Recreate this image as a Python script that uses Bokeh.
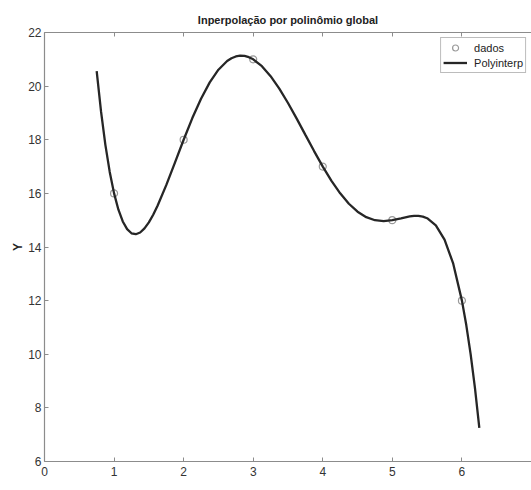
from bokeh.plotting import figure
from bokeh.models import Range1d, LinearAxis, FixedTicker, Legend, LegendItem, Label, CustomJSTickFormatter
from bokeh.embed import file_html
from bokeh.resources import INLINE

# data points
x_dados = [1, 2, 3, 4, 5, 6]
y_dados = [16, 18, 21, 17, 15, 12]

# interpolating curve
curve_x = [0.75, 0.8125, 0.875, 0.9375, 1.0, 1.0625, 1.125, 1.1875, 1.25, 1.3125,
           1.375, 1.4375, 1.5, 1.5625, 1.625, 1.75, 1.875,
           2.0, 2.125, 2.25, 2.375, 2.5, 2.625, 2.6875, 2.75, 2.8125, 2.875, 2.9375,
           3.0, 3.125, 3.25, 3.375, 3.5, 3.625, 3.75, 3.875, 4.0, 4.125, 4.25, 4.375,
           4.5, 4.625, 4.75, 4.875, 5.0, 5.125, 5.25, 5.3125, 5.375, 5.4375, 5.5, 5.625,
           5.75, 5.875, 6.0, 6.0625, 6.125, 6.1875, 6.25]
curve_y = [20.559, 19.057, 17.811, 16.800, 16.0, 15.391, 14.952, 14.665, 14.512, 14.476,
           14.541, 14.693, 14.918, 15.203, 15.537, 16.306, 17.149,
           18.0, 18.808, 19.532, 20.141, 20.613, 20.937, 21.041, 21.107, 21.135, 21.126, 21.080,
           21.0, 20.743, 20.372, 19.907, 19.371, 18.788, 18.182, 17.578, 17.0, 16.468, 16.002, 15.614,
           15.316, 15.112, 14.999, 14.968, 15.0, 15.069, 15.139, 15.159, 15.160, 15.135, 15.074, 14.808,
           14.277, 13.379, 12.0, 11.089, 10.007, 8.735, 7.253]

x_ticks = [0, 1, 2, 3, 4, 5, 6]
y_ticks = [6, 8, 10, 12, 14, 16, 18, 20, 22]

FONT = "Liberation Sans"
AXIS_COL = "#8c8c8c"
TEXT_COL = "#333333"

p = figure(width=531, height=490, output_backend="svg", toolbar_location=None,
           x_range=Range1d(0, 7), y_range=Range1d(6, 22),
           title="Inperpolação por polinômio global",
           min_border_left=44, min_border_right=0, min_border_top=32, min_border_bottom=29)

p.background_fill_color = "white"
p.border_fill_color = "white"
p.outline_line_color = None
p.grid.visible = False

p.title.align = "center"
p.title.text_font = FONT
p.title.text_font_size = "11px"
p.title.text_font_style = "bold"
p.title.text_color = "#222222"
p.title.standoff = 14

def style_axis(ax, ticks):
    ax.ticker = FixedTicker(ticks=ticks)
    ax.axis_line_color = AXIS_COL
    ax.axis_line_width = 1.2
    ax.major_tick_line_color = AXIS_COL
    ax.major_tick_in = 4
    ax.major_tick_out = 0
    ax.minor_tick_line_color = None
    ax.major_label_text_font = FONT
    ax.major_label_text_font_size = "12px"
    ax.major_label_text_color = TEXT_COL
    ax.axis_label_text_font = FONT
    ax.axis_label_text_font_size = "12px"
    ax.axis_label_text_font_style = "bold"
    ax.axis_label_text_color = "#222222"

style_axis(p.xaxis[0], x_ticks)
style_axis(p.yaxis[0], y_ticks)
p.yaxis[0].axis_label = "Y"
p.xaxis[0].major_label_standoff = 5
p.yaxis[0].major_label_standoff = 3
p.yaxis[0].axis_label_standoff = 0

top = LinearAxis()
style_axis(top, x_ticks)
top.formatter = CustomJSTickFormatter(code="return '';")
top.major_label_standoff = 0
p.add_layout(top, "above")

r_pts = p.scatter(x_dados, y_dados, marker="circle", size=7,
                  fill_color=None, line_color="#9a9a9a", line_width=1.2)
r_line = p.line(curve_x, curve_y, line_color="#262626", line_width=2.3)

xlabel = Label(x=(p.x_range.start + p.x_range.end) / 2, y=p.y_range.start,
               x_units="data", y_units="data", y_offset=-23,
               text="x", text_font=FONT, text_font_size="12px", text_font_style="bold",
               text_color="#222222", text_align="center", text_baseline="middle")
p.add_layout(xlabel)

legend = Legend(items=[LegendItem(label="dados", renderers=[r_pts]),
                       LegendItem(label="Polyinterp", renderers=[r_line])],
                location="top_right")
legend.label_text_font = FONT
legend.label_text_font_size = "11px"
legend.label_text_color = "#222222"
legend.border_line_color = "#7a7a7a"
legend.border_line_width = 1
legend.padding = 2
legend.margin = 5
legend.spacing = 0
legend.label_height = 15
legend.glyph_height = 15
legend.glyph_width = 24
legend.label_standoff = 7
p.add_layout(legend)

open("out.html", "w").write(file_html(p, INLINE))
